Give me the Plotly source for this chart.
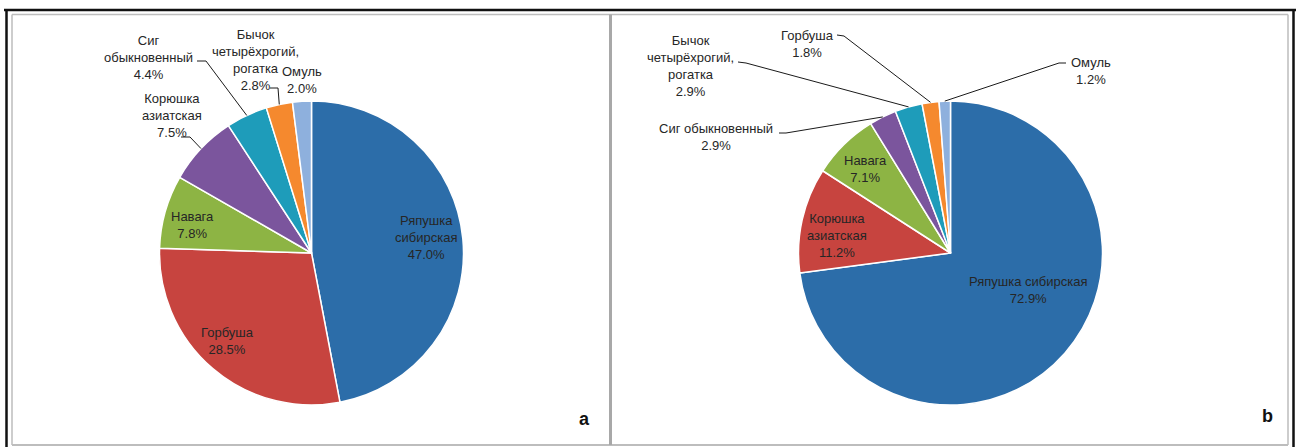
import math
import plotly.graph_objects as go

W, H = 1300, 447

# ---------------- data ----------------
species_a = ["Ряпушка сибирская", "Горбуша", "Навага", "Корюшка азиатская",
             "Сиг обыкновенный", "Бычок четырёхрогий, рогатка", "Омуль"]
share_a = [47.0, 28.5, 7.8, 7.5, 4.4, 2.8, 2.0]

species_b = ["Ряпушка сибирская", "Корюшка азиатская", "Навага", "Сиг обыкновенный",
             "Бычок четырёхрогий, рогатка", "Горбуша", "Омуль"]
share_b = [72.9, 11.2, 7.1, 2.9, 2.9, 1.8, 1.2]

# label line breaks as shown in each panel
display_a = ["Ряпушка<br>сибирская", "Горбуша", "Навага", "Корюшка<br>азиатская",
             "Сиг<br>обыкновенный", "Бычок<br>четырёхрогий,<br>рогатка", "Омуль"]
display_b = ["Ряпушка сибирская", "Корюшка<br>азиатская", "Навага", "Сиг обыкновенный",
             "Бычок<br>четырёхрогий,<br>рогатка", "Горбуша", "Омуль"]

# ---------------- styles ----------------
slice_colors = ["#2C6DA9", "#C7443F", "#8DB444", "#7B559D", "#1E9CBA", "#F5892E", "#8EB0DD"]
FONT = "Liberation Sans, Arial, sans-serif"
TXT = "#262626"
FS = 13

# pie geometry in pixels (centre x, centre y, radius)
geom_a = (311.5, 253.0, 152.0)
geom_b = (950.5, 253.0, 152.0)

# label placement (pixels): text centre, optional leader start and elbow
place_a = [
    dict(t=(426, 237)),
    dict(t=(227, 341)),
    dict(t=(193, 225)),
    dict(t=(172, 116), s=(181, 137), e=(190, 137)),
    dict(t=(148, 57), s=(197, 61), e=(206, 61)),
    dict(t=(255, 60), s=(270, 88), e=(278, 88)),
    dict(t=(302, 80)),
]
place_b = [
    dict(t=(1028, 290)),
    dict(t=(837, 235)),
    dict(t=(865, 169)),
    dict(t=(716, 137), s=(779, 133), e=(786, 133)),
    dict(t=(690, 66), s=(738, 62), e=(746, 63)),
    dict(t=(808, 44), s=(837, 35), e=(844, 36)),
    dict(t=(1091, 71), s=(1066, 63), e=(1059, 63)),
]


def px(x):
    return x / W


def py(y):
    return 1 - y / H


def domain(g):
    cx, cy, r = g
    return dict(x=[px(cx - r), px(cx + r)], y=[py(cy + r), py(cy - r)])


def edge_points(values, g):
    cx, cy, r = g
    tot = sum(values)
    out, cum = [], 0.0
    for v in values:
        th = 2 * math.pi * (cum + v / 2) / tot
        out.append((cx + r * math.sin(th), cy - r * math.cos(th)))
        cum += v
    return out


fig = go.Figure()
for names, vals, g in [(species_a, share_a, geom_a), (species_b, share_b, geom_b)]:
    fig.add_trace(go.Pie(
        labels=names, values=vals, sort=False, direction="clockwise", rotation=0,
        marker=dict(colors=slice_colors, line=dict(color="white", width=1.5)),
        textinfo="none", hoverinfo="label+percent", domain=domain(g), showlegend=False,
    ))

annotations, shapes = [], []
for disp, vals, g, places in [(display_a, share_a, geom_a, place_a),
                              (display_b, share_b, geom_b, place_b)]:
    pts = edge_points(vals, g)
    for d, v, p, pt in zip(disp, vals, places, pts):
        tx, ty = p["t"]
        annotations.append(dict(
            x=px(tx), y=py(ty), xref="paper", yref="paper", showarrow=False,
            text=f"{d}<br>{v:.1f}%", align="center", xanchor="center", yanchor="middle",
            font=dict(family=FONT, size=FS, color=TXT)))
        if "s" in p:
            (sx, sy), (ex, ey) = p["s"], p["e"]
            shapes.append(dict(
                type="path", xref="paper", yref="paper",
                path=f"M {px(sx)},{py(sy)} L {px(ex)},{py(ey)} L {px(pt[0])},{py(pt[1])}",
                line=dict(color="#1a1a1a", width=1)))

# panel letters
for letter, (lx, ly) in [("a", (584, 419)), ("b", (1267, 416))]:
    annotations.append(dict(x=px(lx), y=py(ly), xref="paper", yref="paper", showarrow=False,
                            text=f"<b>{letter}</b>", xanchor="center", yanchor="middle",
                            font=dict(family=FONT, size=18, color="#111111")))

# frame
def line(x0, y0, x1, y1, color, w):
    return dict(type="line", xref="paper", yref="paper", x0=px(x0), y0=py(y0),
                x1=px(x1), y1=py(y1), line=dict(color=color, width=w))

shapes += [
    line(4, 10, 1296, 10, "#111111", 2.5),
    line(6.5, 10, 6.5, 447, "#111111", 2.5),
    line(1293.5, 10, 1293.5, 447, "#111111", 2.5),
    line(12, 14.5, 1288, 14.5, "#bdbdbd", 1.5),
    line(12, 14.5, 12, 445, "#bdbdbd", 1.5),
    line(1288, 14.5, 1288, 445, "#bdbdbd", 1.5),
    line(12, 445, 1288, 445, "#bdbdbd", 2),
    line(610.5, 14.5, 610.5, 445, "#a8a8a8", 3),
]

fig.update_layout(width=W, height=H, margin=dict(l=0, r=0, t=0, b=0),
                  paper_bgcolor="white", plot_bgcolor="white",
                  annotations=annotations, shapes=shapes)
fig.write_html("out.html", config={"displayModeBar": False},
               post_script="document.body.style.margin='0px';document.body.style.overflow='hidden';")
